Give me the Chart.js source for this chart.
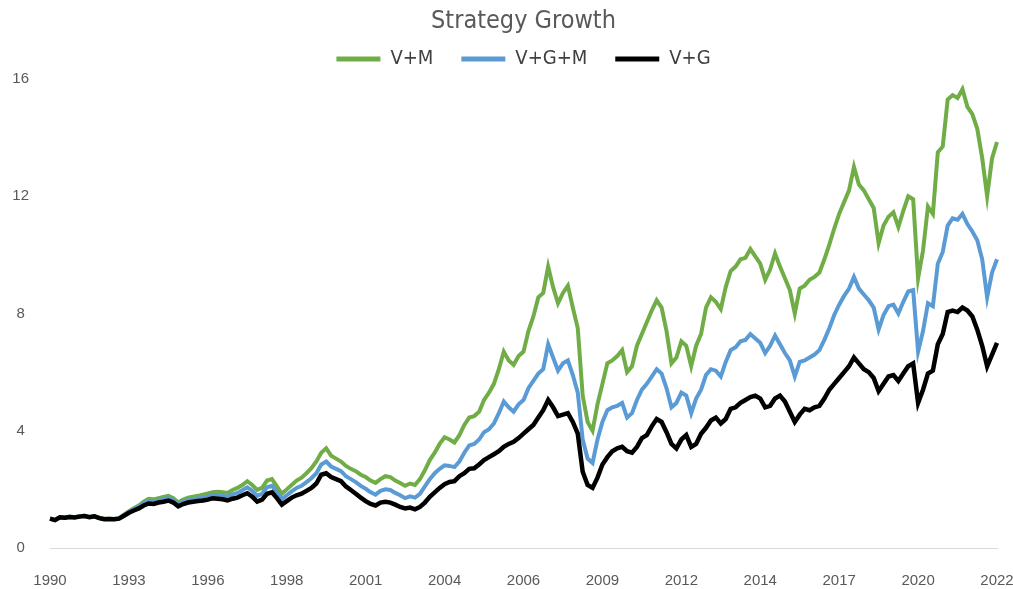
<!DOCTYPE html>
<html>
<head>
<meta charset="utf-8">
<script src="https://cdn.jsdelivr.net/npm/chart.js@4.4.1/dist/chart.umd.min.js"></script>
<style>
  body { margin: 0; background: #fff; }
  #wrap { width: 1013px; height: 589px; position: relative; }
</style>
</head>
<body>
<div id="wrap"><canvas id="growthChart"></canvas></div>
<script>
// bi-monthly points, Dec 1990 .. Dec 2022
const START_YEAR = 1990, START_MONTH = 12, STEP_MONTHS = 2, N_POINTS = 193;
const tickYears = ['1990', '1993', '1996', '1998', '2001', '2004', '2006', '2009', '2012', '2014', '2017', '2020', '2022'];
const TICK_EVERY = 16;

const vm = [
  1.00, 0.96, 1.05, 1.04, 1.07, 1.05, 1.08, 1.10, 1.06, 1.09, 1.03, 1.00, 1.00, 0.99, 1.02, 1.14,
  1.26, 1.36, 1.45, 1.58, 1.68, 1.66, 1.70, 1.74, 1.78, 1.70, 1.55, 1.65, 1.72, 1.75, 1.78, 1.82,
  1.86, 1.90, 1.92, 1.90, 1.88, 1.98, 2.05, 2.15, 2.28, 2.15, 1.98, 2.05, 2.30, 2.35, 2.10, 1.85,
  2.00, 2.15, 2.30, 2.40, 2.55, 2.72, 2.95, 3.25, 3.40, 3.15, 3.05, 2.95, 2.80, 2.70, 2.62, 2.50,
  2.42, 2.30, 2.22, 2.35, 2.45, 2.42, 2.30, 2.22, 2.12, 2.20, 2.15, 2.35, 2.65, 3.00, 3.25, 3.55,
  3.78, 3.70, 3.60, 3.85, 4.20, 4.45, 4.50, 4.65, 5.05, 5.30, 5.60, 6.10, 6.70, 6.40, 6.25, 6.55,
  6.70, 7.40, 7.90, 8.55, 8.70, 9.60, 8.90, 8.35, 8.70, 8.95, 8.20, 7.50, 5.20, 4.30, 4.00, 4.90,
  5.60, 6.30, 6.40, 6.55, 6.75, 6.00, 6.20, 6.90, 7.30, 7.70, 8.10, 8.45, 8.20, 7.40, 6.30, 6.50,
  7.05, 6.90, 6.20, 6.90, 7.30, 8.20, 8.55, 8.40, 8.15, 8.90, 9.45, 9.60, 9.85, 9.90, 10.20, 9.95,
  9.70, 9.15, 9.50, 10.05, 9.60, 9.20, 8.80, 8.00, 8.85, 8.95, 9.15, 9.25, 9.40, 9.85, 10.35, 10.90,
  11.40, 11.80, 12.20, 13.00, 12.40, 12.20, 11.90, 11.60, 10.40, 11.00, 11.30, 11.45, 10.95, 11.50, 12.00, 11.90,
  9.20, 10.15, 11.65, 11.40, 13.50, 13.70, 15.30, 15.45, 15.35, 15.65, 15.05, 14.80, 14.30, 13.30, 12.00, 13.30,
  13.85
];

const vgm = [
  1.00, 0.95, 1.05, 1.03, 1.06, 1.05, 1.08, 1.10, 1.05, 1.08, 1.02, 0.99, 0.99, 0.98, 1.01, 1.12,
  1.23, 1.32, 1.40, 1.52, 1.60, 1.58, 1.62, 1.66, 1.70, 1.62, 1.48, 1.57, 1.63, 1.66, 1.69, 1.72,
  1.75, 1.80, 1.80, 1.78, 1.75, 1.83, 1.88, 1.97, 2.07, 1.95, 1.78, 1.85, 2.07, 2.12, 1.90, 1.66,
  1.80, 1.93, 2.05, 2.12, 2.25, 2.38, 2.55, 2.85, 2.95, 2.78, 2.70, 2.62, 2.45, 2.35, 2.25, 2.12,
  2.02, 1.90, 1.82, 1.95, 2.00, 1.98, 1.88, 1.80, 1.70, 1.76, 1.72, 1.85, 2.10, 2.35, 2.55, 2.70,
  2.82, 2.80, 2.76, 2.95, 3.25, 3.50, 3.55, 3.70, 3.95, 4.05, 4.25, 4.60, 5.00, 4.80, 4.65, 4.90,
  5.05, 5.45, 5.70, 5.95, 6.10, 6.95, 6.50, 6.05, 6.30, 6.40, 5.90, 5.30, 3.70, 3.05, 2.90, 3.70,
  4.30, 4.70, 4.80, 4.85, 4.95, 4.45, 4.60, 5.05, 5.40, 5.60, 5.85, 6.10, 5.95, 5.45, 4.80, 4.95,
  5.30, 5.20, 4.60, 5.10, 5.40, 5.90, 6.10, 6.05, 5.85, 6.35, 6.75, 6.85, 7.05, 7.10, 7.30, 7.15,
  7.00, 6.65, 6.90, 7.25, 6.95, 6.65, 6.40, 5.85, 6.35, 6.40, 6.50, 6.60, 6.75, 7.10, 7.50, 7.95,
  8.30, 8.60, 8.85, 9.25, 8.85, 8.65, 8.45, 8.20, 7.45, 7.95, 8.25, 8.30, 8.00, 8.40, 8.75, 8.80,
  6.70, 7.40, 8.35, 8.25, 9.70, 10.10, 11.00, 11.25, 11.20, 11.40, 11.05, 10.80, 10.50, 9.85, 8.55, 9.40,
  9.85
];

const vg = [
  1.00, 0.95, 1.05, 1.03, 1.06, 1.04, 1.07, 1.09, 1.05, 1.08, 1.02, 0.98, 0.99, 0.98, 1.00, 1.10,
  1.20, 1.28, 1.35, 1.45, 1.52, 1.50, 1.55, 1.58, 1.62, 1.55, 1.42, 1.50, 1.55, 1.58, 1.60, 1.62,
  1.65, 1.70, 1.68, 1.66, 1.62, 1.68, 1.72, 1.80, 1.87, 1.75, 1.58, 1.65, 1.85, 1.90, 1.70, 1.48,
  1.60, 1.72, 1.80, 1.85, 1.95, 2.05, 2.20, 2.50, 2.55, 2.42, 2.35, 2.28, 2.10, 1.98, 1.85, 1.72,
  1.60, 1.50, 1.45, 1.55, 1.58, 1.55, 1.48, 1.40, 1.35, 1.38, 1.32, 1.40, 1.55, 1.75, 1.90, 2.05,
  2.18, 2.25, 2.28, 2.45, 2.55, 2.70, 2.72, 2.85, 3.00, 3.10, 3.20, 3.30, 3.45, 3.55, 3.62, 3.75,
  3.90, 4.05, 4.20, 4.45, 4.70, 5.05, 4.80, 4.50, 4.55, 4.60, 4.30, 3.90, 2.60, 2.15, 2.05, 2.40,
  2.85, 3.10, 3.30, 3.40, 3.45, 3.30, 3.25, 3.45, 3.75, 3.85, 4.15, 4.40, 4.30, 3.95, 3.55, 3.40,
  3.70, 3.85, 3.45, 3.55, 3.90, 4.10, 4.35, 4.45, 4.25, 4.40, 4.75, 4.80, 4.95, 5.05, 5.15, 5.20,
  5.10, 4.80, 4.85, 5.10, 5.20, 5.00, 4.65, 4.30, 4.55, 4.75, 4.70, 4.80, 4.85, 5.10, 5.40, 5.60,
  5.80, 6.00, 6.20, 6.50, 6.30, 6.10, 6.00, 5.80, 5.35, 5.60, 5.85, 5.90, 5.70, 5.95, 6.20, 6.30,
  4.95, 5.40, 5.95, 6.05, 6.95, 7.30, 8.05, 8.10, 8.05, 8.20, 8.10, 7.90, 7.45, 6.90, 6.20, 6.60,
  7.00
];

const labels = [];
for (let i = 0; i < N_POINTS; i++) {
  const m = START_MONTH - 1 + i * STEP_MONTHS;
  const y = START_YEAR + Math.floor(m / 12);
  labels.push(y + '-' + String(m % 12 + 1).padStart(2, '0'));
}

const narrow = "'Liberation Sans Narrow', 'DejaVu Sans Condensed', 'Roboto', sans-serif";
const tickFont = "'Liberation Sans', 'DejaVu Sans', sans-serif";

new Chart(document.getElementById('growthChart'), {
  type: 'line',
  data: {
    labels: labels,
    datasets: [
      { label: 'V+M', data: vm, borderColor: '#70AD47', backgroundColor: '#70AD47', borderWidth: 4, order: 2 },
      { label: 'V+G+M', data: vgm, borderColor: '#5B9BD5', backgroundColor: '#5B9BD5', borderWidth: 4, order: 1 },
      { label: 'V+G', data: vg, borderColor: '#000000', backgroundColor: '#000000', borderWidth: 4.5, order: 0 }
    ]
  },
  options: {
    responsive: true,
    maintainAspectRatio: false,
    animation: false,
    layout: { padding: 0 },
    elements: { point: { radius: 0 }, line: { tension: 0 } },
    plugins: {
      title: {
        display: true,
        fullSize: false,
        text: 'Strategy Growth',
        color: '#595959',
        font: { family: narrow, size: 25, weight: 'normal' },
        padding: { top: 6, bottom: -15 }
      },
      legend: {
        position: 'top',
        fullSize: false,
        labels: {
          color: '#404040',
          font: { family: narrow, size: 20 },
          boxWidth: 44,
          boxHeight: 5,
          padding: 28,
          sort: (a, b) => a.datasetIndex - b.datasetIndex,
          generateLabels: (chart) => Chart.defaults.plugins.legend.labels.generateLabels(chart)
            .map(l => Object.assign(l, { lineWidth: 0 }))
        }
      },
      tooltip: { enabled: false }
    },
    scales: {
      x: {
        grid: { display: false },
        border: { display: true, color: '#D9D9D9', width: 1 },
        ticks: {
          autoSkip: false,
          maxRotation: 0,
          padding: 16,
          color: '#595959',
          font: { family: tickFont, size: 15 },
          callback: (val, i) => (i % TICK_EVERY === 0 ? tickYears[i / TICK_EVERY] : null)
        },
        afterFit: (s) => { s.height = 41; s.paddingLeft = 0; s.paddingRight = 16; }
      },
      y: {
        min: 0,
        max: 16,
        grid: { display: false },
        border: { display: false },
        ticks: {
          stepSize: 4,
          padding: 13,
          crossAlign: 'center',
          color: '#595959',
          font: { family: tickFont, size: 15 }
        },
        afterFit: (s) => { s.width = 50; }
      }
    }
  }
});
</script>
</body>
</html>
